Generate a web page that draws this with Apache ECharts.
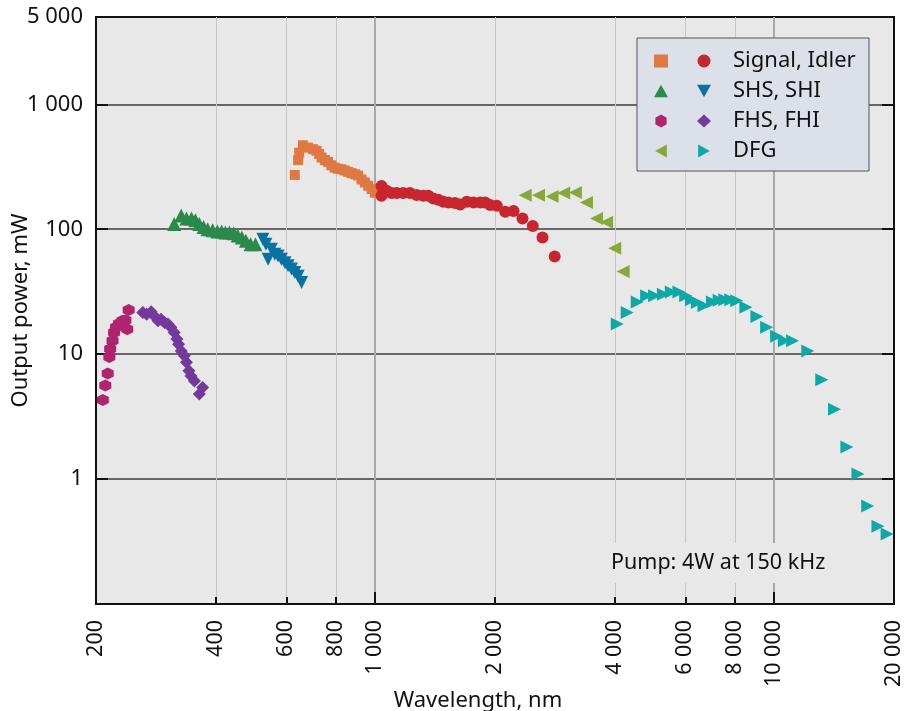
<!DOCTYPE html>
<html>
<head>
<meta charset="utf-8">
<script src="https://cdn.jsdelivr.net/npm/echarts@6/dist/echarts.min.js"></script>
<style>
  html, body { margin: 0; padding: 0; background: #fff; }
  #main { width: 919px; height: 711px; }
</style>
</head>
<body>
<div id="main"></div>
<script>
// wavelength (nm) / output power (mW)
var signalX = [630, 642, 646, 660, 680, 700, 714, 725, 735, 749, 763, 778, 793, 808, 825, 841, 857, 874, 891, 908, 926, 944, 962, 981, 1000];
var signalY = [272, 358, 410, 470, 450, 437, 425, 400, 375, 358, 346, 325, 311, 305, 302, 295, 288, 281, 276, 269, 250, 237, 223, 210, 196];

var idlerX = [1039, 1039, 1070, 1101, 1134, 1178, 1224, 1273, 1323, 1361, 1401, 1442, 1485, 1529, 1588, 1636, 1700, 1767, 1836, 1890, 1946, 2021, 2121, 2226, 2344, 2487, 2631, 2822];
var idlerY = [222, 185, 203, 195, 195, 195, 195, 188, 185, 185, 176, 172, 166, 164, 162, 158, 166, 164, 164, 164, 156, 154, 138, 140, 122, 106, 86, 60.5];

var shsX = [314, 327, 337, 347, 355, 363, 372, 381, 392, 403, 413, 422, 432, 443, 453, 464, 475, 488, 502];
var shsY = [110, 129, 122, 122, 118, 110, 104, 100, 98, 96, 96, 94, 94, 93, 89, 86, 81, 76, 76];

var shiX = [524, 533, 540, 550, 561, 572, 583, 595, 606, 618, 630, 642, 655];
var shiY = [83, 76, 57.5, 69, 63, 61, 57.5, 54, 51, 48, 45, 42, 37.5];

var fhsX = [208, 211, 214, 216, 217, 220, 222, 224.5, 228.5, 233, 237, 239.5, 241.5];
var fhsY = [4.3, 5.6, 7.0, 9.5, 11, 12.8, 14.9, 16.4, 17.6, 18.5, 18.7, 15.8, 22.6];

var fhiX = [262, 268, 275, 280, 286, 291, 297, 303, 308, 314, 319, 322, 327, 333, 337, 342, 346, 353, 363, 370];
var fhiY = [21.6, 20.9, 21.9, 20.2, 18.5, 19.0, 17.9, 17.4, 16.4, 14.9, 13.2, 12.0, 10.6, 9.7, 8.6, 7.35, 6.7, 6.1, 4.8, 5.4];

var dfgLX = [2381, 2571, 2780, 2973, 3180, 3391, 3594, 3808, 3992, 4190];
var dfgLY = [187, 187, 183, 195, 197, 164, 122, 114, 70.5, 45.9];

var dfgRX = [4050, 4289, 4545, 4797, 5023, 5284, 5533, 5781, 6012, 6214, 6431, 6681, 7014, 7291, 7535, 7798, 8071, 8508, 9064, 9590, 10160, 10620, 11140, 12160, 13180, 14190, 15240, 16240, 17180, 18230, 19220];
var dfgRY = [17.4, 21.6, 26.2, 29.3, 29.3, 30.2, 31.5, 31.5, 29.3, 27.3, 25.9, 24.4, 26.2, 27.0, 27.3, 27.3, 26.8, 23.7, 20.0, 16.4, 13.9, 12.8, 12.8, 10.6, 6.23, 3.63, 1.81, 1.10, 0.61, 0.42, 0.363];

// tick labels
var xLabelVals = [200, 400, 600, 800, 1000, 2000, 4000, 6000, 8000, 10000, 20000];
var xMinorVals = [400, 600, 800, 2000, 4000, 6000, 8000];
var xMajorVals = [1000, 10000];
var yLabelVals = [1, 10, 100, 1000, 5000];
var yTickVals = [1, 10, 100, 1000];

var legendNames = { Idler: 'Signal, Idler', SHI: 'SHS, SHI', FHI: 'FHS, FHI', DFG: 'DFG' };

var FONT = 'Noto Sans';
var HEX = 'path://M0,-1 L0.866,-0.5 L0.866,0.5 L0,1 L-0.866,0.5 L-0.866,-0.5 Z';
var TRI_UP = 'path://M1,0 L2,1.8 L0,1.8 Z';
var TRI_DOWN = 'path://M0,0 L2,0 L1,1.8 Z';
var TRI_LEFT = 'path://M0,1 L1.8,0 L1.8,2 Z';
var TRI_RIGHT = 'path://M0,0 L1.8,1 L0,2 Z';

function zip(xs, ys) {
  return xs.map(function (x, i) { return [x, ys[i]]; });
}
function thousands(v) {
  return String(Math.round(v)).replace(/\B(?=(\d{3})+(?!\d))/g, ' ');
}
function dots(name, symbol, size, color, xs, ys) {
  return {
    name: name, type: 'scatter', symbol: symbol, symbolSize: size,
    itemStyle: { color: color, opacity: 1 },
    data: zip(xs, ys)
  };
}

var myChart = echarts.init(document.getElementById('main'));

var option = {
  animation: false,
  grid: {
    left: 96, right: 25, top: 17, bottom: 107,
    outerBoundsMode: 'none',
    containLabel: false,
    show: true,
    backgroundColor: '#e8e8e8',
    borderColor: '#111',
    borderWidth: 2
  },
  xAxis: [
    {
      type: 'log', min: 200, max: 20000,
      position: 'bottom',
      name: 'Wavelength, nm',
      nameLocation: 'middle',
      nameGap: 86,
      nameMoveOverlap: false,
      nameTextStyle: { fontFamily: FONT, fontSize: 22, color: '#111', padding: [0, 34, 0, 0] },
      axisLine: { show: false },
      axisTick: { show: true, inside: true, length: 7, customValues: xMinorVals, lineStyle: { color: '#111', width: 2 } },
      minorTick: { show: false },
      axisLabel: {
        customValues: xLabelVals, rotate: 90, margin: 16,
        fontFamily: FONT, fontSize: 21.5, color: '#111',
        formatter: thousands
      },
      splitLine: { show: true, lineStyle: { color: '#c6c6c6', width: 1 } }
    },
    {
      type: 'log', min: 200, max: 20000,
      position: 'bottom',
      axisLine: { show: false },
      axisTick: { show: true, inside: true, length: 12, customValues: xMajorVals, lineStyle: { color: '#111', width: 2 } },
      minorTick: { show: false },
      axisLabel: { show: false },
      splitLine: { show: true, lineStyle: { color: '#a8a8a8', width: 2 } }
    }
  ],
  yAxis: [
    {
      type: 'log', min: 0.1, max: 5000,
      position: 'left',
      name: 'Output power, mW',
      nameLocation: 'middle',
      nameGap: 64,
      nameMoveOverlap: false,
      nameTextStyle: { fontFamily: FONT, fontSize: 22, color: '#111' },
      axisLine: { show: false },
      axisTick: { show: true, inside: true, length: 12, customValues: yTickVals, lineStyle: { color: '#111', width: 2 } },
      minorTick: { show: false },
      axisLabel: {
        customValues: yLabelVals, margin: 13,
        fontFamily: FONT, fontSize: 22, color: '#111',
        formatter: thousands
      },
      splitLine: { show: true, lineStyle: { color: '#3c3c3c', width: 1.5 } }
    },
    {
      type: 'log', min: 0.1, max: 5000,
      position: 'right',
      axisLine: { show: false },
      axisTick: { show: true, inside: true, length: 12, customValues: yTickVals, lineStyle: { color: '#111', width: 2 } },
      minorTick: { show: false },
      axisLabel: { show: false },
      splitLine: { show: false }
    }
  ],
  legend: [
    {
      data: ['Signal', 'SHS', 'FHS', 'DFG-L'],
      orient: 'vertical',
      left: 649, top: 45,
      itemWidth: 14, itemHeight: 13, itemGap: 8,
      z: 5,
      formatter: function () { return ' '; },
      textStyle: { fontFamily: FONT, fontSize: 22, lineHeight: 22, color: '#111' },
      selectedMode: false
    },
    {
      data: ['Idler', 'SHI', 'FHI', 'DFG'],
      orient: 'vertical',
      left: 692, top: 45,
      itemWidth: 14, itemHeight: 13, itemGap: 8,
      z: 5,
      formatter: function (name) {
        return '{t|' + legendNames[name] + '}';
      },
      textStyle: {
        fontFamily: FONT, fontSize: 22, lineHeight: 22, color: '#111',
        rich: { t: { fontFamily: FONT, fontSize: 22, lineHeight: 22, color: '#111', padding: [0, 0, 0, 17] } }
      },
      selectedMode: false
    }
  ],
  graphic: [
    {
      type: 'rect', z: 3,
      shape: { x: 637, y: 38, width: 232, height: 133 },
      style: { fill: '#dce0e9', stroke: '#555', lineWidth: 1 }
    },
    {
      type: 'text', z: 3,
      left: 607, top: 543,
      style: {
        text: 'Pump: 4W at 150 kHz',
        fontFamily: FONT, fontSize: 21.5, fill: '#111',
        backgroundColor: '#e8e8e8',
        padding: [9, 4]
      }
    }
  ],
  series: [
    dots('Signal', 'rect', 10, '#e07842', signalX, signalY),
    dots('Idler', 'circle', 12, '#c8262e', idlerX, idlerY),
    dots('SHS', TRI_UP, 14, '#2a8a4b', shsX, shsY),
    dots('SHI', TRI_DOWN, 13, '#0a72a3', shiX, shiY),
    dots('FHS', HEX, 12, '#b0236f', fhsX, fhsY),
    dots('FHI', 'diamond', 13, '#74399a', fhiX, fhiY),
    dots('DFG-L', TRI_LEFT, 13, '#86a93e', dfgLX, dfgLY),
    dots('DFG', TRI_RIGHT, 13, '#0fa8a8', dfgRX, dfgRY)
  ]
};

myChart.setOption(option);
</script>
</body>
</html>
